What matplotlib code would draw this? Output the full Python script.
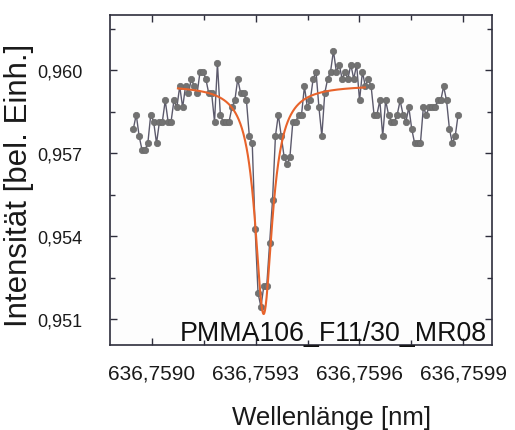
import numpy as np
import matplotlib
matplotlib.use('Agg')
import matplotlib.pyplot as plt
from matplotlib.ticker import FixedLocator, AutoMinorLocator, FuncFormatter

plt.rcParams['font.family'] = ['Liberation Sans', 'DejaVu Sans']

# Spectrometer grid (nm): first sample and step between samples
wl_start = 636.758946
wl_step = 8.39e-6

# Measured transmission, one value per grid point
intensity = [
    0.95788, 0.95840, 0.95762, 0.95712, 0.95712, 0.95736, 0.95840, 0.95814,
    0.95736, 0.95814, 0.95814, 0.95891, 0.95814, 0.95814, 0.95891, 0.95866,
    0.95942, 0.95866, 0.95942, 0.95917, 0.95969, 0.95942, 0.95917, 0.95995,
    0.95995, 0.95969, 0.95917, 0.95917, 0.95814, 0.96026, 0.95840, 0.95814,
    0.95814, 0.95814, 0.95866, 0.95891, 0.95969, 0.95917, 0.95917, 0.95891,
    0.95762, 0.95736, 0.95426, 0.95194, 0.95144, 0.95220, 0.95220, 0.95375,
    0.95531, 0.95762, 0.95840, 0.95762, 0.95687, 0.95661, 0.95687, 0.95814,
    0.95814, 0.95840, 0.95840, 0.95942, 0.95866, 0.95891, 0.95969, 0.95995,
    0.95866, 0.95762, 0.95917, 0.95969, 0.95995, 0.96071, 0.95995, 0.96021,
    0.95969, 0.95995, 0.95969, 0.96021, 0.95969, 0.96021, 0.95891, 0.95995,
    0.95942, 0.95969, 0.95942, 0.95840, 0.95840, 0.95891, 0.95762, 0.95891,
    0.95840, 0.95814, 0.95814, 0.95840, 0.95891, 0.95840, 0.95814, 0.95866,
    0.95788, 0.95736, 0.95736, 0.95736, 0.95866, 0.95840, 0.95866, 0.95866,
    0.95866, 0.95891, 0.95891, 0.95942, 0.95891, 0.95788, 0.95736, 0.95762,
    0.95840,
]

# Lorentz fit of the resonance dip
fit_y0 = 0.95947      # baseline
fit_depth = 0.00829   # dip depth
fit_xc = 636.759323   # centre (nm)
fit_hwhm = 3.04e-5    # half width (nm)
fit_range = (636.759075, 636.759616)

xticks = [636.7590, 636.7593, 636.7596, 636.7599]
yticks = [0.951, 0.954, 0.957, 0.960]
sample_name = 'PMMA106_F11/30_MR08'


def lorentz(x):
    return fit_y0 - fit_depth / (1 + ((x - fit_xc) / fit_hwhm) ** 2)


wl = wl_start + wl_step * np.arange(len(intensity))
xfit = np.linspace(fit_range[0], fit_range[1], 600)

fig = plt.figure(figsize=(5.15, 4.31), dpi=100)
ax = fig.add_axes([0.2136, 0.1972, 0.7417, 0.7657])
ax.set_facecolor('#fdfdfd')

ax.plot(wl, intensity, '-', color='#5c5a6c', lw=1.0, zorder=2)
ax.plot(wl, intensity, 'o', color='#727272', ms=4.6, mec='#6a6a6a', mew=0.5, zorder=3)
ax.plot(xfit, lorentz(xfit), '-', color='#e8632b', lw=1.5, zorder=4)

ax.set_xlim(636.7588785, 636.7599836)
ax.set_ylim(0.950059, 0.962005)

ax.xaxis.set_major_locator(FixedLocator(xticks))
ax.yaxis.set_major_locator(FixedLocator(yticks))
ax.xaxis.set_minor_locator(AutoMinorLocator(2))
ax.yaxis.set_minor_locator(AutoMinorLocator(2))
ax.xaxis.set_major_formatter(FuncFormatter(lambda v, p: ('%.4f' % v).replace('.', ',')))
ax.yaxis.set_major_formatter(FuncFormatter(lambda v, p: ('%.3f' % v).replace('.', ',')))

for s in ax.spines.values():
    s.set_color('#2e2e3c')
    s.set_linewidth(1.2)

ax.tick_params(which='both', direction='in', top=True, right=True, color='#2e2e3c', width=1.0)
ax.tick_params(which='major', length=5)
ax.tick_params(which='minor', length=3.5)
ax.tick_params(axis='x', which='major', labelsize=15, pad=13.5, labelcolor='#1a1a1a')
ax.tick_params(axis='y', which='major', labelsize=13, pad=20, labelcolor='#1a1a1a')

ax.text(0.987, 0.015, sample_name, transform=ax.transAxes, ha='right', va='baseline',
        fontsize=19.3, color='#111111')

fig.text(0.643, 0.014, 'Wellenlänge [nm]', ha='center', va='baseline', fontsize=18.6, color='#1a1a1a')
fig.text(0.037, 0.571, 'Intensität [bel. Einh.]', ha='center', va='center', rotation=90,
         fontsize=22.5, color='#1a1a1a')

fig.savefig('out.png', dpi=100)
